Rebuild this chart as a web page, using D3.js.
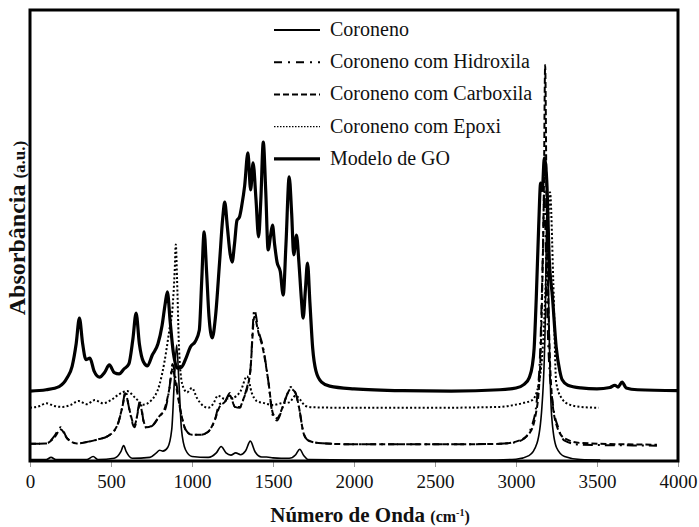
<!DOCTYPE html>
<html>
<head>
<meta charset="utf-8">
<script src="https://d3js.org/d3.v7.min.js"></script>
<style>
  body { margin: 0; background: #fff; }
  text { font-family: "Liberation Serif", "Times New Roman", serif; fill: #111; }
</style>
</head>
<body>
<script>

var w = 699, h = 527;

// x = wavenumber (cm-1), y = absorbance (a.u.)
var coroneno = [
  [0,0.3],[100,0.3],[130,0.8],[160,0.3],[350,0.3],[390,1.0],[420,0.3],[520,0.6],[560,2.0],[578,3.4],[595,2.0],
  [630,0.6],[740,0.8],[780,1.8],[800,2.4],[820,2.2],[850,3.0],[875,7],[890,17],[905,25.7],[920,17],[935,7],
  [960,2.5],[1000,1.0],[1100,0.8],[1150,1.8],[1180,3.2],[1210,1.8],[1240,1.3],[1270,1.8],[1300,1.4],[1330,2.2],
  [1360,4.4],[1390,2.0],[1430,0.9],[1460,0.9],[1500,0.7],[1550,0.6],[1600,0.6],[1640,1.4],[1665,2.6],[1690,1.2],
  [1720,0.3],[2000,0.2],[2800,0.2],[3000,0.4],[3080,1.2],[3130,4],[3160,12],[3180,30],[3192,58],[3204,30],
  [3220,10],[3250,3],[3300,1],[3400,0.3],[3520,0.2]
];

var hidroxila = [
  [0,3.8],[100,3.9],[150,5.5],[190,7.5],[230,5],[290,3.9],[350,4.2],[420,4.8],[480,5.5],[540,8],[570,12],
  [590,15.5],[610,12],[645,7.5],[680,13.3],[700,9],[720,7.3],[760,8],[800,10],[830,11],[860,16],[880,21.5],
  [900,18],[930,11],[960,7],[1000,5.8],[1050,5.8],[1100,6.5],[1140,9],[1170,12.6],[1200,13],[1235,15.1],
  [1265,12],[1295,11.8],[1320,14],[1340,16.4],[1360,20],[1385,33.5],[1410,29],[1440,25],[1470,18],[1500,10],
  [1525,9],[1560,12],[1590,15],[1610,16.4],[1640,15],[1660,12],[1690,6],[1720,4.5],[1780,4.0],[2000,3.7],
  [2500,3.7],[2900,3.8],[3000,4.2],[3050,5],[3100,8],[3130,14],[3150,25],[3165,45],[3175,60],[3185,45],
  [3200,25],[3230,12],[3260,7.5],[3300,4.5],[3400,3.6],[3600,3.5],[3870,3.4]
];

var carboxila = [
  [0,3.8],[100,3.9],[150,5.2],[190,7.0],[230,5],[290,3.9],[350,4.2],[420,4.8],[480,5.5],[540,8],[570,12],
  [590,15],[610,12],[645,8],[680,12.5],[700,9],[720,7.5],[760,8],[800,10],[830,11.5],[860,16],[880,20.5],
  [900,17],[930,11],[960,7],[1000,5.8],[1050,5.8],[1100,6.5],[1140,9],[1170,12],[1200,13],[1235,14.5],
  [1265,12],[1295,12],[1320,14],[1340,16],[1360,20],[1385,32],[1410,28.5],[1440,24.5],[1470,18],[1500,10.5],
  [1525,9.5],[1560,12],[1590,15],[1610,16],[1640,15],[1660,12],[1690,6],[1720,4.5],[1780,4.0],[2000,3.7],
  [2500,3.7],[2900,3.8],[3000,4.3],[3080,6],[3120,10],[3145,18],[3160,35],[3172,60],[3180,87.8],[3188,60],
  [3200,35],[3220,15],[3250,8],[3300,5],[3400,4],[3870,3.6]
];

var epoxi = [
  [0,11.8],[60,12.2],[100,12.8],[150,12.2],[200,12.0],[250,12.4],[300,13.3],[350,12.6],[400,13.5],[450,12.8],
  [500,13.5],[550,14.8],[600,15.5],[650,14],[700,12.5],[750,13.5],[800,17],[830,22],[860,29],[880,34],
  [893,42],[900,48],[908,40],[920,25],[940,17],[970,15.2],[1000,16.2],[1030,14],[1070,12.2],[1100,11.8],
  [1130,12.6],[1160,14.5],[1200,13.8],[1250,14],[1300,15.5],[1340,18.8],[1370,15],[1400,13.3],[1450,12.8],
  [1500,12.4],[1550,12.8],[1600,13],[1640,14.5],[1670,13.5],[1700,12.2],[1750,11.9],[2000,11.8],[2500,11.8],
  [2900,12.0],[3000,12.5],[3050,12.9],[3100,13.5],[3140,17],[3170,28],[3190,45],[3210,59.6],[3230,40],
  [3248,17.5],[3280,14],[3330,12.5],[3400,12],[3510,11.8]
];

var modeloGO = [
  [0,15.5],[100,15.8],[180,16.5],[230,18.5],[260,21],[285,26],[305,31.7],[325,26],[345,22.5],[370,22.8],
  [395,20],[430,18.6],[460,19.6],[490,21.3],[520,19.6],[550,19.3],[580,20.4],[610,21.5],[635,27],[655,32.8],
  [675,26],[700,22],[725,21.1],[755,23.5],[790,26],[815,30],[835,35],[848,37.5],[865,31],[885,24],[910,20.6],
  [935,20.8],[965,23],[990,25.3],[1020,26.5],[1045,29],[1060,40],[1075,50.8],[1090,42],[1105,32],[1125,27.3],
  [1145,32],[1170,44],[1190,54],[1202,57.4],[1218,52],[1235,46],[1248,44.1],[1262,48],[1278,53.4],[1292,54],
  [1308,56.8],[1325,61],[1345,68.3],[1362,60.1],[1377,66.1],[1395,58],[1411,49.7],[1425,58],[1440,70.7],
  [1455,60],[1470,46.8],[1485,50],[1497,52.3],[1510,48],[1525,44.1],[1545,42],[1563,36.8],[1580,48],
  [1600,63.0],[1615,55],[1628,45.7],[1645,50.1],[1660,44],[1675,36],[1686,31.7],[1700,38],[1713,43.9],
  [1728,35],[1745,25],[1765,20],[1800,17.5],[1850,16.6],[2000,16.0],[2300,15.6],[2600,15.5],[2900,15.8],
  [3000,16.2],[3050,17],[3082,18.5],[3100,21],[3112,25],[3125,36],[3140,52],[3152,61.6],[3162,60],
  [3175,67.2],[3190,62],[3205,45],[3225,36.4],[3248,25.3],[3270,20],[3285,18],[3320,16.8],[3400,16.2],
  [3500,16.0],[3580,16.3],[3610,16.8],[3630,16.4],[3655,17.5],[3680,16.2],[3750,15.8],[4000,15.6]
];

var seriesNames = ["Coroneno", "Coroneno com Hidroxila", "Coroneno com Carboxila", "Coroneno com Epoxi", "Modelo de GO"];
var seriesData = [coroneno, hidroxila, carboxila, epoxi, modeloGO];
var xTicks = [0, 500, 1000, 1500, 2000, 2500, 3000, 3500, 4000];

// line styles
var styles = [
  {width: 1.6, dash: null},
  {width: 2, dash: "10,5,2,5"},
  {width: 2, dash: "6,3"},
  {width: 2, dash: "2,2.2"},
  {width: 3.2, dash: null}
];

var mLeft = 30, mRight = 678, mTop = 10, mBottom = 461;

var x = d3.scaleLinear().domain([0, 4000]).range([mLeft, mRight]);
var y = d3.scaleLinear().domain([0, 100]).range([mBottom, mTop]);

var svg = d3.select("body").append("svg").attr("width", w).attr("height", h);

var line = d3.line()
  .x(function(d){ return x(d[0]); })
  .y(function(d){ return y(d[1]); })
  .curve(d3.curveMonotoneX);

svg.append("clipPath").attr("id", "clip")
  .append("rect").attr("x", mLeft).attr("y", mTop).attr("width", mRight - mLeft).attr("height", mBottom - mTop);

var plot = svg.append("g").attr("clip-path", "url(#clip)");

seriesData.forEach(function(ds, i){
  plot.append("path")
    .datum(ds)
    .attr("d", line)
    .attr("fill", "none")
    .attr("stroke", "#000")
    .attr("stroke-width", styles[i].width)
    .attr("stroke-dasharray", styles[i].dash)
    .attr("stroke-linejoin", "round");
});

// x axis ticks
var xAxis = d3.axisBottom(x).tickValues(xTicks).tickSize(5).tickPadding(8).tickFormat(d3.format("d"));
var ax = svg.append("g").attr("transform", "translate(0," + (mBottom + 1) + ")").call(xAxis);
ax.select(".domain").remove();
ax.selectAll("line").attr("stroke", "#999");
ax.selectAll("text").attr("font-size", "19px").attr("font-family", "Liberation Serif").attr("fill", "#111");

// frame
svg.append("rect")
  .attr("x", mLeft).attr("y", mTop).attr("width", mRight - mLeft).attr("height", mBottom - mTop)
  .attr("fill", "none").attr("stroke", "#000").attr("stroke-width", 3);

// legend
var legend = svg.append("g");
seriesNames.forEach(function(name, i){
  var ly = 30 + i * 32.2;
  legend.append("line")
    .attr("x1", 274).attr("x2", 320).attr("y1", ly).attr("y2", ly)
    .attr("stroke", "#000")
    .attr("stroke-width", i == 4 ? 3.2 : (i == 3 ? 1.4 : 2))
    .attr("stroke-dasharray", i == 1 ? "8,6,2,6" : (i == 2 ? "6,3" : (i == 3 ? "1.5,1.5" : null)));
  legend.append("text")
    .attr("x", 330).attr("y", ly + 6)
    .attr("font-size", "20px")
    .text(name);
});

// axis titles
var xt = svg.append("text")
  .attr("x", 370).attr("y", 522)
  .attr("text-anchor", "middle")
  .attr("font-weight", "bold");
xt.append("tspan").attr("font-size", "21px").text("Número de Onda ");
xt.append("tspan").attr("font-size", "16px").text("(cm");
xt.append("tspan").attr("font-size", "10px").attr("dy", -6).text("-1");
xt.append("tspan").attr("font-size", "16px").attr("dy", 6).text(")");

var yt = svg.append("text")
  .attr("transform", "translate(25,228) rotate(-90)")
  .attr("text-anchor", "middle")
  .attr("font-weight", "bold");
yt.append("tspan").attr("font-size", "24px").text("Absorbância ");
yt.append("tspan").attr("font-size", "17px").text("(a.u.)");

</script>
</body>
</html>
